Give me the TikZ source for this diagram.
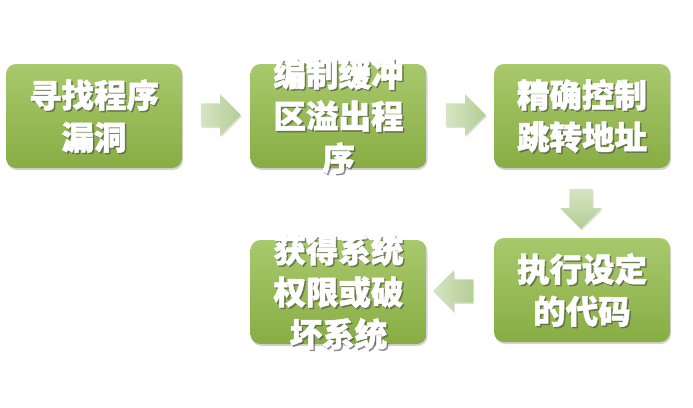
\documentclass[tikz,border=0pt]{standalone}
\usepackage{fontspec}
\newfontfamily\cjk{Noto Sans CJK SC}[BoldFeatures={FakeBold=1.6}]
\usepackage{tikz}
\usetikzlibrary{shapes.arrows,shadows}

\definecolor{boxtop}{RGB}{168,201,108}
\definecolor{boxbot}{RGB}{136,173,68}
\definecolor{arrlight}{RGB}{214,229,196}
\definecolor{arrdark}{RGB}{180,205,148}

\tikzset{
  boxtext/.style={text=white,font=\cjk\bfseries\fontsize{32.5}{42}\selectfont,align=center},
  txtshadow/.style={boxtext,text=black!70,text opacity=0.55,xshift=1.5pt,yshift=-1.5pt},
  stepbox/.style={rectangle,rounded corners=10pt,minimum width=176pt,minimum height=104pt,
    top color=boxtop,bottom color=boxbot,draw=none,
    drop shadow={shadow xshift=1pt,shadow yshift=-2pt,opacity=0.35},
    label={[txtshadow]center:#1},label={[boxtext]center:#1}},
  flowarrow/.style={single arrow,draw=none,minimum width=41pt,minimum height=40pt,
    single arrow head extend=9pt,single arrow head indent=0pt,inner sep=11.5pt,
    left color=arrlight,right color=arrdark,
    drop shadow={shadow xshift=1pt,shadow yshift=-1.5pt,opacity=0.25}}
}

\begin{document}
\begin{tikzpicture}[x=1pt,y=-1pt]
  \useasboundingbox (0,0) rectangle (693,407);
  % five steps
  \node[stepbox={寻找程序\\漏洞}] (find) at (94,116) {};
  \node[stepbox={编制缓冲\\区溢出程\\序}] (write) at (338.5,116) {};
  \node[stepbox={精确控制\\跳转地址}] (jump) at (582,116) {};
  \node[stepbox={执行设定\\的代码}] (exec) at (582,290) {};
  \node[stepbox={获得系统\\权限或破\\坏系统}] (gain) at (338.5,292) {};
  % block arrows between the steps
  \node[flowarrow] (a1) at (215,115) {};
  \node[flowarrow] (a2) at (460,115) {};
  \node[flowarrow,shape border rotate=270,top color=arrlight,bottom color=arrdark] (a3) at (581,203) {};
  \node[flowarrow,shape border rotate=180] (a4) at (459,291) {};
\end{tikzpicture}
\end{document}
